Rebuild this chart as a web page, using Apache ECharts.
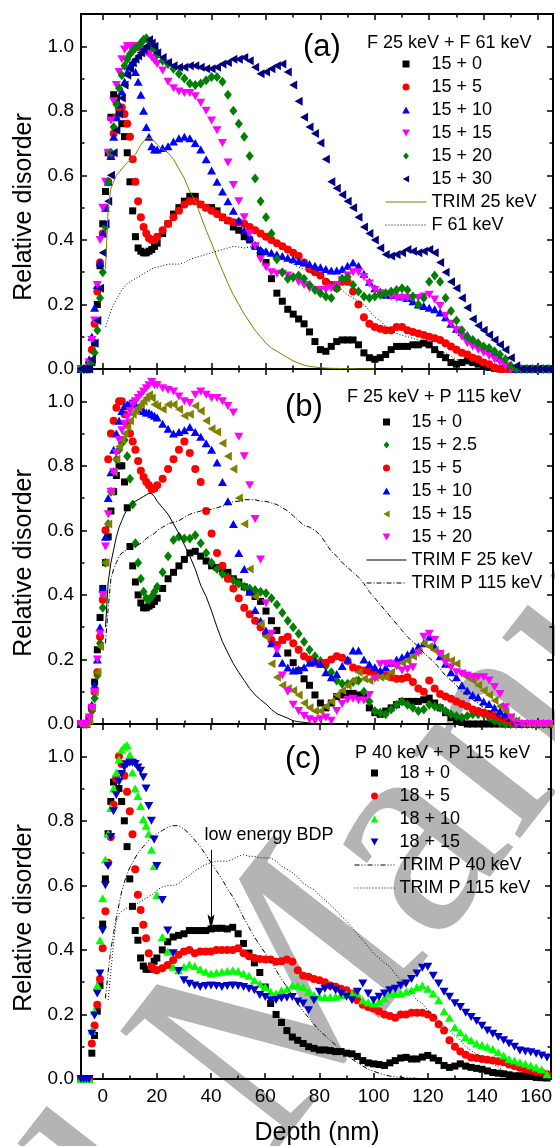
<!DOCTYPE html>
<html>
<head>
<meta charset="utf-8">
<script src="https://cdn.jsdelivr.net/npm/echarts@6/dist/echarts.min.js"></script>
<style>
  html, body { margin: 0; padding: 0; background: #fff; }
  #chart { width: 555px; height: 1146px; }
</style>
</head>
<body>
<div id="chart"></div>
<script>
const _ = null;
const FONT = '"Liberation Sans", Arial, Helvetica, sans-serif';

// depth grid (nm): 1 nm steps near the surface, 2 nm steps deeper
const DEPTH = [
  -8, -7, -6, -5, -4, -3, -2, -1, 0, 1,
  2, 3, 4, 5, 6, 7, 8, 9, 10, 11,
  12, 13, 14, 15, 16, 17, 18, 19, 20,
  22, 24, 26, 28, 30, 32, 34, 36, 38, 40,
  42, 44, 46, 48, 50, 52, 54, 56, 58, 60,
  62, 64, 66, 68, 70, 72, 74, 76, 78, 80,
  82, 84, 86, 88, 90, 92, 94, 96, 98, 100,
  102, 104, 106, 108, 110, 112, 114, 116, 118, 120,
  122, 124, 126, 128, 130, 132, 134, 136, 138, 140,
  142, 144, 146, 148, 150, 152, 154, 156, 158, 160,
  162, 164
];
const X_MAJOR = [0, 20, 40, 60, 80, 100, 120, 140, 160];
const X_MINOR = [10, 30, 50, 70, 90, 110, 130, 150];
const Y_MAJOR = [0, 0.2, 0.4, 0.6, 0.8, 1.0];
const Y_MINOR = [0.1, 0.3, 0.5, 0.7, 0.9];

// ---- panel (a): F 25 keV + F 61 keV ----
const A_15_0 = [
  0, 0, 0, 0, 0.02, 0.08, 0.2, 0.32, 0.45, 0.55,
  0.67, 0.78, 0.85, 0.84, 0.8, 0.76, 0.72, 0.67, 0.58, 0.49,
  0.41, 0.375, 0.365, 0.36, 0.36, 0.365, 0.37, 0.38, 0.39,
  0.42, 0.45, 0.48, 0.5, 0.52, 0.535, 0.535, 0.51, 0.5, 0.5,
  0.49, 0.47, 0.46, 0.44, 0.43, 0.41, 0.4, 0.38, 0.36, 0.33,
  0.28, 0.235, 0.21, 0.185, 0.17, 0.155, 0.14, 0.115, 0.085, 0.06,
  0.055, 0.07, 0.085, 0.09, 0.09, 0.09, 0.075, 0.05, 0.035, 0.03,
  0.035, 0.045, 0.06, 0.07, 0.07, 0.07, 0.075, 0.075, 0.08, 0.075,
  0.06, 0.045, 0.035, 0.02, 0.015, 0.02, 0.025, 0.02, 0.015, 0.01,
  0.005, 0.002, 0, 0, 0, 0, 0, 0, 0, 0,
  0, 0
];
const A_15_5 = [
  0, 0, 0, 0.02, 0.06, 0.14, 0.24, 0.33, 0.42, 0.5,
  0.58, 0.66, 0.73, 0.78, 0.81, 0.81, 0.79, 0.76, 0.72, 0.65,
  0.58, 0.52, 0.47, 0.44, 0.42, 0.405, 0.4, 0.4, 0.41,
  0.43, 0.45, 0.47, 0.49, 0.51, 0.52, 0.52, 0.51, 0.5, 0.49,
  0.48, 0.47, 0.46, 0.455, 0.455, 0.45, 0.44, 0.43, 0.42, 0.41,
  0.4, 0.39, 0.38, 0.37, 0.36, 0.35, 0.33, 0.31, 0.3, 0.29,
  0.27, 0.26, 0.25, 0.27, 0.27, 0.24, 0.2, 0.16, 0.14, 0.13,
  0.125, 0.12, 0.12, 0.13, 0.13, 0.12, 0.115, 0.11, 0.105, 0.1,
  0.095, 0.09, 0.08, 0.07, 0.06, 0.05, 0.045, 0.035, 0.03, 0.02,
  0.015, 0.005, 0, 0, 0, 0, 0, 0, 0, 0,
  0, 0
];
const A_15_10 = [
  0, 0, 0, 0.03, 0.1, 0.19, 0.26, 0.33, 0.42, 0.5,
  0.58, 0.66, 0.72, 0.78, 0.82, 0.86, 0.89, 0.92, 0.94, 0.95,
  0.92, 0.89, 0.85, 0.8, 0.75, 0.72, 0.69, 0.68, 0.68,
  0.685, 0.69, 0.705, 0.715, 0.72, 0.715, 0.7, 0.68, 0.65, 0.615,
  0.58, 0.55, 0.52, 0.49, 0.46, 0.43, 0.41, 0.385, 0.37, 0.365,
  0.36, 0.355, 0.35, 0.345, 0.34, 0.335, 0.33, 0.325, 0.32, 0.315,
  0.31, 0.305, 0.305, 0.31, 0.32, 0.33, 0.32, 0.295, 0.27, 0.25,
  0.24, 0.23, 0.23, 0.23, 0.225, 0.22, 0.21, 0.2, 0.195, 0.19,
  0.185, 0.175, 0.16, 0.14, 0.125, 0.115, 0.105, 0.09, 0.08, 0.07,
  0.06, 0.05, 0.035, 0.02, 0.01, 0, 0, 0, 0, 0,
  0, 0
];
const A_15_15 = [
  0, 0, 0, 0.02, 0.09, 0.15, 0.26, 0.4, 0.5, 0.58,
  0.67, 0.77, 0.83, 0.88, 0.92, 0.96, 0.99, 1.0, 1.0, 1.0,
  1.0, 0.995, 0.99, 0.985, 0.98, 0.975, 0.965, 0.955, 0.945,
  0.925, 0.89, 0.87, 0.86, 0.855, 0.855, 0.845, 0.825, 0.8, 0.77,
  0.74, 0.7, 0.64, 0.57, 0.52, 0.47, 0.42, 0.38, 0.34, 0.315,
  0.3, 0.295, 0.295, 0.29, 0.28, 0.27, 0.26, 0.25, 0.245, 0.245,
  0.245, 0.25, 0.26, 0.275, 0.29, 0.3, 0.3, 0.285, 0.265, 0.245,
  0.235, 0.23, 0.225, 0.22, 0.22, 0.22, 0.22, 0.22, 0.225, 0.23,
  0.215, 0.195, 0.165, 0.14, 0.12, 0.1, 0.08, 0.07, 0.06, 0.05,
  0.04, 0.03, 0.02, 0.01, 0, 0, 0, 0, 0, 0,
  0, 0
];
const A_15_20 = [
  0, 0, 0, 0, 0.02, 0.05, 0.12, 0.22, 0.3, 0.44,
  0.58, 0.67, 0.75, 0.82, 0.87, 0.91, 0.94, 0.96, 0.975, 0.985,
  0.995, 1.0, 1.01, 1.02, 1.025, 1.015, 1.0, 0.99, 0.975,
  0.955, 0.945, 0.93, 0.915, 0.9, 0.885, 0.88, 0.885, 0.895, 0.905,
  0.905, 0.89, 0.85, 0.8, 0.76, 0.72, 0.66, 0.59, 0.52, 0.47,
  0.42, 0.34, 0.3, 0.28, 0.285, 0.29, 0.28, 0.26, 0.245, 0.235,
  0.225, 0.22, 0.25, 0.28, 0.285, 0.26, 0.24, 0.225, 0.22, 0.225,
  0.23, 0.235, 0.24, 0.245, 0.25, 0.245, 0.225, 0.2, 0.22, 0.27,
  0.29, 0.27, 0.22, 0.18, 0.15, 0.12, 0.1, 0.09, 0.08, 0.07,
  0.065, 0.055, 0.045, 0.03, 0.01, 0, 0, 0, 0, 0,
  0, 0
];
const A_15_30 = [
  0, 0, 0, 0, 0.03, 0.08, 0.15, 0.25, 0.36, 0.45,
  0.52, 0.6, 0.67, 0.74, 0.79, 0.84, 0.88, 0.91, 0.93, 0.95,
  0.96, 0.97, 0.98, 0.99, 1.0, 1.02, 1.01, 1.0, 0.98,
  0.965, 0.95, 0.94, 0.935, 0.935, 0.94, 0.94, 0.935, 0.93, 0.93,
  0.935, 0.945, 0.95, 0.96, 0.96, 0.965, 0.955, 0.935, 0.915, 0.92,
  0.93, 0.94, 0.945, 0.92, 0.88, 0.83, 0.78, 0.75, 0.73, 0.7,
  0.65, 0.58, 0.56, 0.54, 0.52, 0.5, 0.47, 0.44, 0.42, 0.4,
  0.375, 0.355, 0.35, 0.355, 0.36, 0.37, 0.365, 0.36, 0.365, 0.37,
  0.36, 0.33, 0.3, 0.27, 0.25, 0.22, 0.19, 0.155, 0.135, 0.12,
  0.105, 0.09, 0.075, 0.06, 0.035, 0.01, 0, 0, 0, 0,
  0, 0
];
const A_TRIM_25 = [
  _, _, _, _, _, _, _, _, _, 0.31,
  0.5, 0.56, 0.58, 0.6, 0.61, 0.62, 0.63, 0.64, 0.645, 0.655,
  0.665, 0.68, 0.695, 0.705, 0.715, 0.715, 0.715, 0.705, 0.695,
  0.68, 0.67, 0.65, 0.62, 0.59, 0.55, 0.52, 0.475, 0.43, 0.39,
  0.345, 0.305, 0.265, 0.23, 0.2, 0.17, 0.145, 0.12, 0.1, 0.08,
  0.065, 0.055, 0.045, 0.035, 0.025, 0.018, 0.012, 0.008, 0.006, 0.004,
  0.003, 0.002, 0.002, 0.001, 0.001, 0.001, 0, 0, 0, 0,
  _, _, _, _, _, _, _, _, _, _,
  _, _, _, _, _, _, _, _, _, _,
  _, _, _, _, _, _, _, _, _, _,
  _, _
];
const A_F_61 = [
  _, _, _, _, _, _, _, _, _, 0.13,
  0.155, 0.18, 0.2, 0.215, 0.23, 0.245, 0.255, 0.265, 0.27, 0.275,
  0.28, 0.285, 0.29, 0.295, 0.3, 0.305, 0.31, 0.315, 0.315,
  0.32, 0.325, 0.325, 0.325, 0.33, 0.34, 0.345, 0.35, 0.355, 0.36,
  0.365, 0.37, 0.375, 0.38, 0.378, 0.375, 0.378, 0.38, 0.375, 0.37,
  0.36, 0.355, 0.345, 0.335, 0.325, 0.315, 0.31, 0.3, 0.295, 0.29,
  0.28, 0.27, 0.26, 0.245, 0.23, 0.22, 0.21, 0.2, 0.18, 0.16,
  0.15, 0.13, 0.12, 0.11, 0.105, 0.1, 0.095, 0.09, 0.08, 0.07,
  0.065, 0.055, 0.05, 0.04, 0.03, 0.025, 0.02, 0.015, 0.01, 0.005,
  _, _, _, _, _, _, _, _, _, _,
  _, _
];

// ---- panel (b): F 25 keV + P 115 keV ----
const B_15_0 = [
  0, 0, 0, 0.01, 0.05, 0.13, 0.23, 0.33, 0.42, 0.5,
  0.58, 0.66, 0.72, 0.77, 0.8, 0.8, 0.75, 0.67, 0.55, 0.49,
  0.44, 0.4, 0.375, 0.36, 0.36, 0.365, 0.37, 0.38, 0.39,
  0.42, 0.45, 0.47, 0.49, 0.51, 0.53, 0.535, 0.52, 0.505, 0.49,
  0.485, 0.48, 0.47, 0.45, 0.44, 0.425, 0.41, 0.395, 0.38, 0.35,
  0.32, 0.29, 0.26, 0.22, 0.19, 0.165, 0.14, 0.12, 0.09, 0.065,
  0.05, 0.065, 0.085, 0.09, 0.095, 0.095, 0.09, 0.085, 0.05, 0.035,
  0.03, 0.04, 0.05, 0.06, 0.07, 0.07, 0.07, 0.07, 0.075, 0.08,
  0.065, 0.05, 0.035, 0.02, 0.01, 0.005, 0, 0, 0, 0,
  0, 0, 0, 0, 0, 0, 0, 0, 0, 0,
  0, 0
];
const B_15_2_5 = [
  0, 0, 0, 0.01, 0.04, 0.08, 0.15, 0.25, 0.36, 0.5,
  0.62, 0.72, 0.78, 0.82, 0.85, 0.87, 0.88, 0.83, 0.76, 0.68,
  0.56, 0.5, 0.45, 0.41, 0.39, 0.385, 0.395, 0.41, 0.425,
  0.47, 0.52, 0.57, 0.58, 0.575, 0.575, 0.585, 0.56, 0.53, 0.5,
  0.48, 0.465, 0.455, 0.445, 0.435, 0.425, 0.42, 0.415, 0.41, 0.405,
  0.39, 0.37, 0.345, 0.32, 0.3, 0.28, 0.255, 0.23, 0.21, 0.195,
  0.18, 0.16, 0.135, 0.125, 0.125, 0.13, 0.135, 0.1, 0.07, 0.04,
  0.035, 0.03, 0.045, 0.06, 0.07, 0.06, 0.05, 0.04, 0.045, 0.06,
  0.055, 0.05, 0.04, 0.03, 0.025, 0.02, 0.025, 0.03, 0.03, 0.03,
  0.02, 0.01, 0.005, 0, 0, 0, 0, 0, 0, 0,
  0, 0
];
const B_15_5 = [
  0, 0, 0, 0.02, 0.05, 0.1, 0.16, 0.27, 0.385, 0.6,
  0.82, 0.9, 0.94, 0.98, 1.0, 1.0, 0.96, 0.93, 0.9, 0.875,
  0.85, 0.815, 0.785, 0.765, 0.75, 0.74, 0.727, 0.73, 0.74,
  0.76, 0.79, 0.82, 0.85, 0.875, 0.84, 0.79, 0.75, 0.66, 0.59,
  0.53, 0.49, 0.45, 0.42, 0.39, 0.36, 0.34, 0.32, 0.3, 0.28,
  0.26, 0.245, 0.26, 0.27, 0.25, 0.23, 0.21, 0.2, 0.19, 0.187,
  0.19, 0.2, 0.21, 0.205, 0.195, 0.175, 0.17, 0.166, 0.163, 0.16,
  0.155, 0.15, 0.145, 0.14, 0.14, 0.145, 0.13, 0.11, 0.1, 0.135,
  0.11, 0.093, 0.085, 0.078, 0.07, 0.062, 0.055, 0.045, 0.04, 0.035,
  0.03, 0.025, 0.02, 0.015, 0.01, 0, 0, 0, 0, 0,
  0, 0
];
const B_15_10 = [
  0, 0, 0, 0.02, 0.06, 0.12, 0.2, 0.3, 0.42, 0.58,
  0.7, 0.78, 0.85, 0.9, 0.94, 0.97, 0.985, 0.99, 0.995, 1.0,
  0.99, 0.98, 0.975, 0.97, 0.965, 0.965, 0.96, 0.955, 0.95,
  0.93, 0.915, 0.9, 0.905, 0.91, 0.92, 0.905, 0.89, 0.87, 0.85,
  0.81, 0.75, 0.69, 0.62, 0.53, 0.48, 0.41, 0.353, 0.32, 0.29,
  0.25, 0.22, 0.19, 0.175, 0.166, 0.17, 0.176, 0.19, 0.195, 0.187,
  0.16, 0.145, 0.155, 0.18, 0.2, 0.228, 0.228, 0.2, 0.185, 0.176,
  0.166, 0.175, 0.19, 0.2, 0.207, 0.215, 0.228, 0.24, 0.25, 0.27,
  0.24, 0.21, 0.187, 0.16, 0.145, 0.12, 0.104, 0.09, 0.083, 0.07,
  0.062, 0.05, 0.04, 0.03, 0.02, 0.01, 0, 0, 0, 0,
  0, 0
];
const B_15_15 = [
  0, 0, 0, 0.01, 0.05, 0.1, 0.16, 0.24, 0.4, 0.5,
  0.62, 0.72, 0.78, 0.82, 0.86, 0.88, 0.9, 0.92, 0.94, 0.96,
  0.97, 0.98, 0.99, 1.0, 1.01, 1.02, 1.01, 0.99, 0.985,
  0.975, 0.99, 0.99, 0.975, 0.955, 0.96, 0.985, 0.97, 0.94, 0.915,
  0.905, 0.87, 0.83, 0.79, 0.7, 0.62, 0.48, 0.395, 0.31, 0.27,
  0.187, 0.145, 0.12, 0.11, 0.104, 0.09, 0.065, 0.05, 0.04, 0.04,
  0.055, 0.07, 0.09, 0.104, 0.12, 0.135, 0.16, 0.14, 0.135, 0.145,
  0.145, 0.145, 0.16, 0.18, 0.19, 0.197, 0.21, 0.228, 0.25, 0.24,
  0.228, 0.215, 0.208, 0.197, 0.187, 0.156, 0.145, 0.135, 0.12, 0.104,
  0.09, 0.073, 0.055, 0.04, 0.02, 0.01, 0, 0, 0, 0,
  0, 0
];
const B_15_20 = [
  0, 0, 0, 0.02, 0.05, 0.1, 0.2, 0.28, 0.4, 0.55,
  0.65, 0.72, 0.78, 0.84, 0.88, 0.91, 0.93, 0.95, 0.97, 0.99,
  1.0, 1.01, 1.02, 1.03, 1.04, 1.05, 1.06, 1.05, 1.05,
  1.04, 1.035, 1.03, 1.015, 1.0, 0.995, 1.02, 1.03, 1.02, 1.01,
  1.01, 1.0, 0.985, 0.965, 0.89, 0.83, 0.74, 0.635, 0.51, 0.374,
  0.28, 0.23, 0.15, 0.1, 0.06, 0.04, 0.025, 0.015, 0.01, 0.015,
  0.02, 0.01, 0.04, 0.062, 0.075, 0.078, 0.073, 0.073, 0.09, 0.14,
  0.185, 0.187, 0.187, 0.18, 0.166, 0.17, 0.176, 0.22, 0.27, 0.28,
  0.26, 0.218, 0.19, 0.176, 0.16, 0.156, 0.15, 0.145, 0.145, 0.145,
  0.135, 0.115, 0.093, 0.052, 0.02, 0, 0, 0, 0, 0,
  0, 0
];
const B_TRIM_F25 = [
  _, _, _, _, _, _, _, _, _, 0.3,
  0.44, 0.5, 0.54, 0.58, 0.61, 0.63, 0.65, 0.665, 0.675, 0.685,
  0.69, 0.695, 0.7, 0.705, 0.71, 0.715, 0.713, 0.705, 0.69,
  0.67, 0.65, 0.62, 0.59, 0.555, 0.52, 0.48, 0.43, 0.395, 0.35,
  0.3, 0.255, 0.22, 0.187, 0.16, 0.135, 0.11, 0.09, 0.075, 0.062,
  0.045, 0.032, 0.025, 0.018, 0.01, 0.007, 0.005, 0.003, 0.002, 0.001,
  0.001, 0, 0, _, _, _, _, _, _, _,
  _, _, _, _, _, _, _, _, _, _,
  _, _, _, _, _, _, _, _, _, _,
  _, _, _, _, _, _, _, _, _, _,
  _, _
];
const B_TRIM_P115 = [
  _, _, _, _, _, _, _, _, _, 0.25,
  0.36, 0.45, 0.48, 0.5, 0.52, 0.53, 0.535, 0.54, 0.545, 0.55,
  0.55, 0.555, 0.56, 0.565, 0.575, 0.58, 0.585, 0.59, 0.6,
  0.61, 0.62, 0.625, 0.63, 0.64, 0.65, 0.655, 0.66, 0.665, 0.665,
  0.67, 0.675, 0.68, 0.69, 0.69, 0.695, 0.695, 0.695, 0.69, 0.69,
  0.685, 0.68, 0.67, 0.66, 0.645, 0.63, 0.615, 0.61, 0.6, 0.585,
  0.56, 0.535, 0.52, 0.5, 0.485, 0.47, 0.455, 0.435, 0.41, 0.39,
  0.37, 0.35, 0.33, 0.31, 0.29, 0.27, 0.255, 0.24, 0.22, 0.205,
  0.19, 0.17, 0.15, 0.135, 0.12, 0.1, 0.09, 0.075, 0.065, 0.05,
  0.04, 0.03, 0.02, 0.012, 0.008, 0.004, 0.002, 0, _, _,
  _, _
];

// ---- panel (c): P 40 keV + P 115 keV ----
const C_18_0 = [
  0, 0, 0, 0, 0.08, 0.135, 0.21, 0.29, 0.48, 0.62,
  0.76, 0.86, 0.92, 0.93, 0.9, 0.86, 0.8, 0.72, 0.62, 0.535,
  0.46, 0.43, 0.375, 0.35, 0.34, 0.34, 0.35, 0.365, 0.375,
  0.4, 0.425, 0.44, 0.445, 0.45, 0.46, 0.46, 0.46, 0.46, 0.465,
  0.467, 0.467, 0.465, 0.47, 0.45, 0.42, 0.39, 0.36, 0.33, 0.285,
  0.234, 0.2, 0.175, 0.15, 0.13, 0.12, 0.11, 0.1, 0.095, 0.09,
  0.09, 0.088, 0.085, 0.085, 0.08, 0.078, 0.07, 0.057, 0.05, 0.047,
  0.045, 0.042, 0.05, 0.057, 0.065, 0.067, 0.062, 0.062, 0.068, 0.073,
  0.065, 0.057, 0.042, 0.036, 0.04, 0.047, 0.04, 0.036, 0.033, 0.03,
  0.025, 0.02, 0.018, 0.016, 0.013, 0.01, 0.01, 0.01, 0.008, 0.005,
  0.004, 0.003
];
const C_18_5 = [
  0, 0, 0, 0, 0.11, 0.166, 0.23, 0.31, 0.405, 0.52,
  0.67, 0.75, 0.85, 0.93, 1.0, 0.976, 0.94, 0.89, 0.83, 0.758,
  0.65, 0.571, 0.524, 0.478, 0.436, 0.39, 0.348, 0.34, 0.337,
  0.343, 0.353, 0.368, 0.385, 0.395, 0.4, 0.39, 0.395, 0.395, 0.395,
  0.4, 0.4, 0.4, 0.4, 0.405, 0.39, 0.38, 0.375, 0.372, 0.37,
  0.37, 0.363, 0.365, 0.37, 0.363, 0.337, 0.32, 0.317, 0.31, 0.306,
  0.3, 0.29, 0.286, 0.28, 0.275, 0.265, 0.244, 0.23, 0.223, 0.218,
  0.21, 0.2, 0.195, 0.19, 0.2, 0.2, 0.205, 0.205, 0.205, 0.2,
  0.19, 0.17, 0.15, 0.12, 0.1, 0.085, 0.075, 0.067, 0.065, 0.062,
  0.06, 0.057, 0.055, 0.052, 0.045, 0.04, 0.035, 0.03, 0.026, 0.022,
  0.02, 0.015
];
const C_18_10 = [
  0, 0, 0, 0, 0.15, 0.21, 0.29, 0.43, 0.56, 0.68,
  0.76, 0.84, 0.9, 0.95, 0.99, 1.02, 1.03, 1.035, 1.005, 0.95,
  0.9, 0.877, 0.846, 0.805, 0.785, 0.76, 0.71, 0.66, 0.57,
  0.44, 0.395, 0.348, 0.337, 0.348, 0.355, 0.35, 0.34, 0.332, 0.327,
  0.33, 0.332, 0.335, 0.337, 0.335, 0.327, 0.32, 0.306, 0.295, 0.285,
  0.27, 0.265, 0.275, 0.28, 0.29, 0.29, 0.285, 0.27, 0.26, 0.255,
  0.254, 0.254, 0.255, 0.26, 0.262, 0.265, 0.265, 0.244, 0.238, 0.234,
  0.24, 0.25, 0.265, 0.265, 0.265, 0.27, 0.275, 0.285, 0.29, 0.28,
  0.265, 0.244, 0.21, 0.19, 0.16, 0.145, 0.13, 0.12, 0.11, 0.105,
  0.1, 0.093, 0.083, 0.073, 0.062, 0.057, 0.052, 0.047, 0.042, 0.036,
  0.03, 0.015
];
const C_18_15 = [
  0, 0, 0, 0, 0.14, 0.197, 0.265, 0.327, 0.46, 0.6,
  0.66, 0.75, 0.83, 0.88, 0.92, 0.945, 0.966, 0.975, 0.98, 0.98,
  0.976, 0.965, 0.955, 0.935, 0.9, 0.846, 0.8, 0.742, 0.66,
  0.555, 0.46, 0.39, 0.335, 0.306, 0.295, 0.29, 0.285, 0.288, 0.29,
  0.288, 0.285, 0.288, 0.29, 0.288, 0.285, 0.28, 0.275, 0.26, 0.254,
  0.244, 0.245, 0.25, 0.252, 0.254, 0.24, 0.234, 0.213, 0.244, 0.27,
  0.28, 0.285, 0.275, 0.265, 0.255, 0.244, 0.27, 0.296, 0.265, 0.244,
  0.255, 0.265, 0.275, 0.28, 0.29, 0.296, 0.31, 0.327, 0.345, 0.348,
  0.32, 0.296, 0.27, 0.255, 0.235, 0.223, 0.205, 0.192, 0.18, 0.165,
  0.15, 0.14, 0.13, 0.12, 0.11, 0.1, 0.088, 0.085, 0.083, 0.078,
  0.073, 0.067
];
const C_TRIM_P40 = [
  _, _, _, _, _, _, _, _, _, 0.25,
  0.33, 0.4, 0.45, 0.5, 0.54, 0.58, 0.61, 0.635, 0.655, 0.67,
  0.685, 0.7, 0.71, 0.72, 0.73, 0.74, 0.75, 0.755, 0.76,
  0.77, 0.78, 0.785, 0.785, 0.775, 0.76, 0.74, 0.72, 0.695, 0.67,
  0.645, 0.62, 0.59, 0.565, 0.535, 0.5, 0.47, 0.44, 0.415, 0.39,
  0.365, 0.337, 0.31, 0.285, 0.26, 0.234, 0.21, 0.19, 0.17, 0.15,
  0.135, 0.12, 0.105, 0.088, 0.075, 0.062, 0.05, 0.04, 0.03, 0.024,
  0.018, 0.013, 0.009, 0.007, 0.005, 0.004, 0.003, 0.002, 0.001, 0,
  _, _, _, _, _, _, _, _, _, _,
  _, _, _, _, _, _, _, _, _, _,
  _, _
];
const C_TRIM_P115 = [
  _, _, _, _, _, _, _, _, _, _,
  0.245, 0.33, 0.42, 0.49, 0.51, 0.52, 0.525, 0.53, 0.535, 0.535,
  0.54, 0.545, 0.55, 0.555, 0.56, 0.565, 0.57, 0.575, 0.585,
  0.595, 0.6, 0.6, 0.605, 0.62, 0.63, 0.645, 0.655, 0.665, 0.67,
  0.675, 0.675, 0.675, 0.68, 0.69, 0.695, 0.69, 0.69, 0.685, 0.685,
  0.685, 0.675, 0.66, 0.65, 0.64, 0.625, 0.607, 0.595, 0.587, 0.57,
  0.555, 0.54, 0.524, 0.505, 0.49, 0.47, 0.45, 0.43, 0.41, 0.39,
  0.375, 0.36, 0.348, 0.325, 0.306, 0.285, 0.265, 0.245, 0.234, 0.213,
  0.2, 0.182, 0.165, 0.15, 0.135, 0.12, 0.1, 0.088, 0.078, 0.067,
  0.057, 0.047, 0.038, 0.026, 0.018, 0.01, 0.006, 0.003, 0, _,
  _, _
];

// annotation in panel (c)
const BDP_ARROW = [[40, 0.71], [40, 0.485]];
const BDP_TEXT = [61.4, 0.755];

// ---------------------------------------------------------------
// all markers as paths so the legend keeps their proportions
const SYM = {
  square: 'path://M0,0H10V10H0Z',
  circle: 'circle',
  up: 'path://M5,0L10,9L0,9Z',
  down: 'path://M0,0L10,0L5,9Z',
  diamond: 'path://M5,0L10,6L5,12L0,6Z',
  left: 'path://M9,0L9,10L0,5Z'
};
const SIZE = { square: 7, circle: 8, up: [9, 8], down: [9, 8], diamond: [8, 10], left: [8, 9] };
// thin arrow head, tip up; two zero-size stubs widen the box to a square
const ARROW_HEAD = 'path://M8,0L11.5,16L8,13L4.5,16Z M0,16L0,16.01L0.01,16Z M16,16L16,16.01L15.99,16Z';

const GRID_TOPS = [14, 369, 724];
const GRID_H = 355;

function pts(vals) {
  return DEPTH.map((d, i) => vals[i] == null ? null : [d, vals[i]]).filter(p => p);
}

function dots(panel, label, vals, shape, color) {
  return {
    type: 'scatter', name: 'abc'[panel] + ':' + label,
    xAxisIndex: panel * 4, yAxisIndex: panel * 4,
    data: pts(vals), symbol: SYM[shape], symbolSize: SIZE[shape],
    itemStyle: { color: color, opacity: 1 }, silent: true, animation: false
  };
}

function curve(panel, label, vals, color, dash) {
  return {
    type: 'line', name: 'abc'[panel] + ':' + label,
    xAxisIndex: panel * 4, yAxisIndex: panel * 4,
    data: pts(vals), symbol: 'none', showSymbol: false,
    lineStyle: { color: color, width: 1, type: dash },
    itemStyle: { color: color },
    silent: true, animation: false, z: 3
  };
}

const DOT = [1, 2];
const DASH_DOT = [5, 2, 1, 2];
const DASH_DOT_DOT = [5, 2, 1, 2, 1, 2];

const series = [
  dots(0, '15 + 0', A_15_0, 'square', '#000000'),
  dots(0, '15 + 5', A_15_5, 'circle', '#ff0000'),
  dots(0, '15 + 10', A_15_10, 'up', '#0000ff'),
  dots(0, '15 + 15', A_15_15, 'down', '#ff00ff'),
  dots(0, '15 + 20', A_15_20, 'diamond', '#008000'),
  dots(0, '15 + 30', A_15_30, 'left', '#000080'),
  curve(0, 'TRIM 25 keV', A_TRIM_25, '#808000', 'solid'),
  curve(0, 'F 61 keV', A_F_61, '#000000', DOT),

  dots(1, '15 + 0', B_15_0, 'square', '#000000'),
  dots(1, '15 + 2.5', B_15_2_5, 'diamond', '#008000'),
  dots(1, '15 + 5', B_15_5, 'circle', '#ff0000'),
  dots(1, '15 + 10', B_15_10, 'up', '#0000ff'),
  dots(1, '15 + 15', B_15_15, 'left', '#808000'),
  dots(1, '15 + 20', B_15_20, 'down', '#ff00ff'),
  curve(1, 'TRIM F 25 keV', B_TRIM_F25, '#000000', 'solid'),
  curve(1, 'TRIM P 115 keV', B_TRIM_P115, '#000000', DASH_DOT),

  dots(2, '18 + 0', C_18_0, 'square', '#000000'),
  dots(2, '18 + 5', C_18_5, 'circle', '#ff0000'),
  dots(2, '18 + 10', C_18_10, 'up', '#00ff00'),
  dots(2, '18 + 15', C_18_15, 'down', '#0000cc'),
  curve(2, 'TRIM P 40 keV', C_TRIM_P40, '#000000', DASH_DOT_DOT),
  curve(2, 'TRIM P 115 keV', C_TRIM_P115, '#000000', DOT)
];

// arrow + "low energy BDP" label hang on the 18 + 0 series
series[16].markLine = {
  silent: true, animation: false,
  lineStyle: { color: '#000', width: 1, type: 'solid' }, label: { show: false },
  data: [[
    { coord: BDP_ARROW[0], symbol: 'none' },
    { coord: BDP_ARROW[1], symbol: ARROW_HEAD, symbolSize: 16 }
  ]]
};
series[16].markPoint = {
  silent: true, animation: false, symbol: 'circle', symbolSize: 0,
  label: { show: true, position: 'inside', formatter: 'low energy BDP', color: '#000', fontSize: 18, fontFamily: FONT },
  data: [{ coord: BDP_TEXT }]
};

const grids = GRID_TOPS.map(t => ({ left: 81, right: 2, top: t, height: GRID_H }));
const xAxes = [], yAxes = [];
GRID_TOPS.forEach((t, g) => {
  [['bottom', X_MAJOR, 6, g === 2], ['bottom', X_MINOR, 3.5, false],
   ['top', X_MAJOR, 6, false], ['top', X_MINOR, 3.5, false]].forEach(([pos, ticks, len, lab]) => {
    xAxes.push({
      gridIndex: g, type: 'value', position: pos, min: -8, max: 165.5,
      axisLine: { show: true, onZero: false, lineStyle: { color: '#000', width: 2 } },
      axisTick: { show: true, inside: true, length: len, customValues: ticks, lineStyle: { color: '#000', width: 1.5 } },
      axisLabel: { show: lab, customValues: X_MAJOR, color: '#000', fontSize: 19, fontFamily: FONT, margin: 8 },
      splitLine: { show: false }
    });
  });
  [['left', Y_MAJOR, 6, true], ['left', Y_MINOR, 3.5, false],
   ['right', Y_MAJOR, 6, false], ['right', Y_MINOR, 3.5, false]].forEach(([pos, ticks, len, lab]) => {
    yAxes.push({
      gridIndex: g, type: 'value', position: pos, min: 0, max: 1.1,
      axisLine: { show: true, onZero: false, lineStyle: { color: '#000', width: 2 } },
      axisTick: { show: true, inside: true, length: len, customValues: ticks, lineStyle: { color: '#000', width: 1.5 } },
      axisLabel: { show: lab, customValues: Y_MAJOR, formatter: v => v.toFixed(1), color: '#000', fontSize: 19, fontFamily: FONT, margin: 7 },
      splitLine: { show: false }
    });
  });
});

function legend(panel, left, top, itemWidth, labels, lines) {
  return {
    orient: 'vertical', left: left, top: top, padding: 0,
    itemWidth: itemWidth, itemHeight: 7, itemGap: 5, selectedMode: false,
    textStyle: { fontSize: 18, lineHeight: 18, color: '#000', fontFamily: FONT },
    lineStyle: { width: 1 },
    formatter: n => n.slice(2),
    data: labels.map(l => ({ name: 'abc'[panel] + ':' + l }))
      .concat(lines.map(l => ({ name: 'abc'[panel] + ':' + l, itemStyle: { opacity: 0 } })))
  };
}

const titleStyle = (size) => ({ fontSize: size, fontWeight: 'normal', color: '#000', fontFamily: FONT });
const axisName = (x, y, rot, text) => ({
  type: 'text', x: x, y: y, rotation: rot, z: 10,
  style: { text: text, font: '25px ' + FONT, fill: '#000', textAlign: 'center', textVerticalAlign: 'middle' }
});

// grey "Accepted Manuscript" stamp running diagonally under the data
const STAMP_ANGLE = 52 * Math.PI / 180;

const option = {
  backgroundColor: '#fff',
  animation: false,
  grid: grids,
  xAxis: xAxes,
  yAxis: yAxes,
  title: [
    { text: '(a)', left: 303, top: 32, padding: 0, textStyle: titleStyle(31) },
    { text: '(b)', left: 285, top: 392, padding: 0, textStyle: titleStyle(31) },
    { text: '(c)', left: 285, top: 744, padding: 0, textStyle: titleStyle(31) },
    { text: 'F 25 keV + F 61 keV', left: 367, top: 34, padding: 0, textStyle: titleStyle(18) },
    { text: 'F 25 keV + P 115 keV', left: 347, top: 388, padding: 0, textStyle: titleStyle(18) },
    { text: 'P 40 keV + P 115 keV', left: 355, top: 744, padding: 0, textStyle: titleStyle(18) }
  ],
  legend: [
    legend(0, 385, 55, 41, ['15 + 0', '15 + 5', '15 + 10', '15 + 15', '15 + 20', '15 + 30'], ['TRIM 25 keV', 'F 61 keV']),
    legend(1, 366, 413, 40, ['15 + 0', '15 + 2.5', '15 + 5', '15 + 10', '15 + 15', '15 + 20'], ['TRIM F 25 keV', 'TRIM P 115 keV']),
    legend(2, 354, 764, 40, ['18 + 0', '18 + 5', '18 + 10', '18 + 15'], ['TRIM P 40 keV', 'TRIM P 115 keV'])
  ],
  graphic: [
    {
      type: 'text', x: -536, y: 2062, rotation: STAMP_ANGLE, z: -5, silent: true,
      style: { text: 'Accepted Manuscript', font: '300px "Liberation Serif", "DejaVu Serif", serif', fill: '#b4b4b4', textAlign: 'left', textVerticalAlign: 'middle' }
    },
    axisName(24, 207, Math.PI / 2, 'Relative disorder'),
    axisName(24, 563, Math.PI / 2, 'Relative disorder'),
    axisName(24, 918, Math.PI / 2, 'Relative disorder'),
    axisName(317, 1133, 0, 'Depth (nm)')
  ],
  series: series
};

const chart = echarts.init(document.getElementById('chart'), null, { renderer: 'canvas' });
chart.setOption(option);
</script>
</body>
</html>
